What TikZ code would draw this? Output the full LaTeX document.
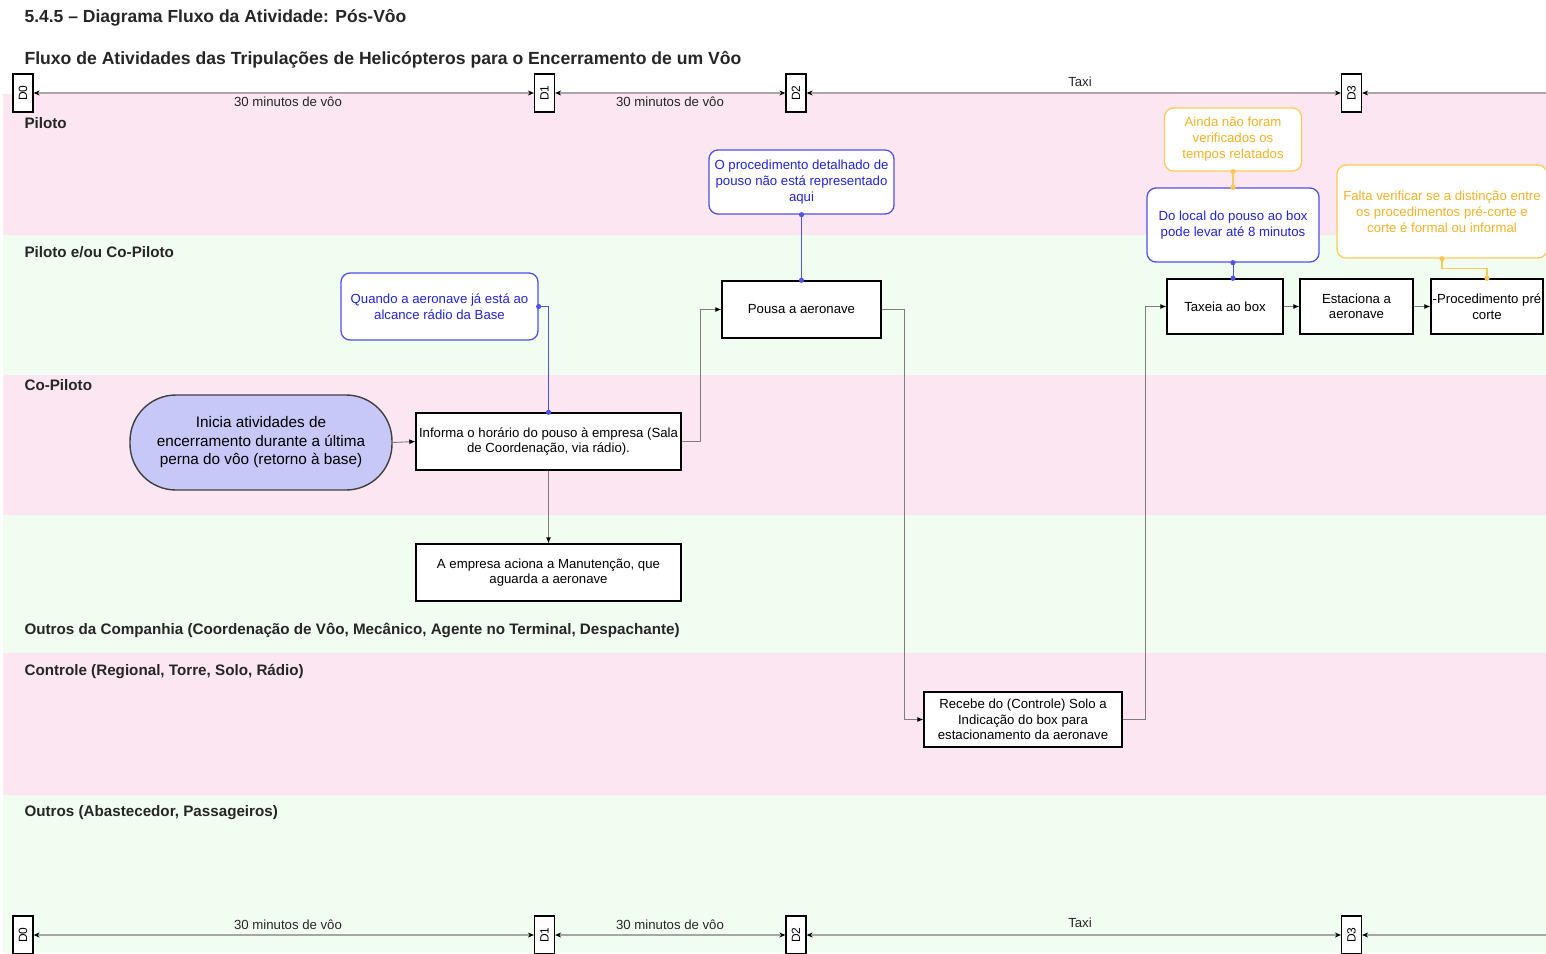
\documentclass[tikz,border=0pt]{standalone}
\usepackage{fontspec}
\setmainfont{Liberation Sans}
\usetikzlibrary{arrows.meta,calc}
\definecolor{lanepink}{RGB}{252,230,241}
\definecolor{lanegreen}{RGB}{241,253,241}
\definecolor{notebl}{RGB}{80,80,235}
\definecolor{notetxt}{RGB}{35,35,220}
\definecolor{noteyl}{RGB}{250,205,90}
\definecolor{noteytxt}{RGB}{240,178,40}
\definecolor{startfill}{RGB}{200,200,248}
\definecolor{conn}{RGB}{125,125,125}
\newcommand\fsz[2]{\fontsize{#1}{#2}\selectfont}
\begin{document}
\begin{tikzpicture}[x=1pt,y=-1pt,
  stepbox/.style={draw=black, line width=1.4pt, fill=white, align=center, font=\fsz{13.2}{15.5}, inner sep=1pt},
  startbox/.style={draw=black!75, line width=1.4pt, fill=startfill, align=center, font=\fsz{15.3}{18.5}, rounded corners=46pt, inner sep=1pt},
  bnote/.style={draw=notebl, line width=1.3pt, fill=white, rounded corners=9pt, text=notetxt, align=center, font=\fsz{13.2}{16}, inner sep=1pt},
  ynote/.style={draw=noteyl, line width=1.3pt, fill=white, rounded corners=9pt, text=noteytxt, align=center, font=\fsz{13.2}{16}, inner sep=1pt},
  tbox/.style={draw=black, line width=1.2pt, fill=white, minimum width=20pt, minimum height=38pt, inner sep=0pt},
  tlabel/.style={font=\fsz{13.2}{15}, text=black!85},
  lanelabel/.style={font=\bfseries\fsz{15.2}{18}, anchor=west, text=black!85},
  flow/.style={draw=conn, line width=0.9pt, -{Latex[length=6pt,width=5pt,black]}},
  bconn/.style={draw=notebl, line width=1pt},
  yconn/.style={draw=noteyl, line width=1.2pt},
  tline/.style={draw=black!35, line width=1.4pt, {Stealth[length=6pt,width=5pt,black]}-{Stealth[length=6pt,width=5pt,black]}},
  tlineone/.style={draw=black!35, line width=1.4pt, {Stealth[length=6pt,width=5pt,black]}-},
]
\useasboundingbox (0,0) rectangle (1546,953);
\fill[white] (0,0) rectangle (1546,953);
% lanes
\fill[lanepink]  (3,94)  rectangle (1546,235);
\fill[lanegreen] (3,235) rectangle (1546,375);
\fill[lanepink]  (3,375) rectangle (1546,515);
\fill[lanegreen] (3,515) rectangle (1546,653);
\fill[lanepink]  (3,653) rectangle (1546,795);
\fill[lanegreen] (3,795) rectangle (1546,953);

% titles
\node[font=\bfseries\fsz{17.5}{20}, anchor=west, text=black!85] (t1) at (21,18) {5.4.5 – Diagrama Fluxo da Atividade: Pós-Vôo};
\node[font=\bfseries\fsz{17.6}{20}, anchor=west, text=black!85] (t2) at (21,60) {Fluxo de Atividades das Tripulações de Helicópteros para o Encerramento de um Vôo};

% lane labels
\node[lanelabel] (l1) at (21,123) {Piloto};
\node[lanelabel] (l2) at (21,252) {Piloto e/ou Co-Piloto};
\node[lanelabel] (l3) at (21,385) {Co-Piloto};
\node[lanelabel] (l4) at (21,630) {Outros da Companhia (Coordenação de Vôo, Mecânico, Agente no Terminal, Despachante)};
\node[lanelabel] (l5) at (21,672) {Controle (Regional, Torre, Solo, Rádio)};
\node[lanelabel] (l6) at (21,813) {Outros (Abastecedor, Passageiros)};

% top timeline
\node[tbox] (d0) at (23,93) {\rotatebox{90}{\fsz{12}{13}D0}};
\node[tbox] (d1) at (544.5,93) {\rotatebox{90}{\fsz{12}{13}D1}};
\node[tbox] (d2) at (796,93) {\rotatebox{90}{\fsz{12}{13}D2}};
\node[tbox] (d3) at (1351.5,93) {\rotatebox{90}{\fsz{12}{13}D3}};
\coordinate (tend) at (1546,93);
\draw[tline] (d0.east) -- (d1.west);
\draw[tline] (d1.east) -- (d2.west);
\draw[tline] (d2.east) -- (d3.west);
\draw[tlineone] (d3.east) -- (tend);
\node[tlabel] (a1) at (288,101.5) {30 minutos de vôo};
\node[tlabel] (a2) at (670,101.5) {30 minutos de vôo};
\node[tlabel] (a3) at (1080,81.5) {Taxi};

% bottom timeline
\node[tbox] (e0) at (23,935) {\rotatebox{90}{\fsz{12}{13}D0}};
\node[tbox] (e1) at (544.5,935) {\rotatebox{90}{\fsz{12}{13}D1}};
\node[tbox] (e2) at (796,935) {\rotatebox{90}{\fsz{12}{13}D2}};
\node[tbox] (e3) at (1351.5,935) {\rotatebox{90}{\fsz{12}{13}D3}};
\coordinate (bend) at (1546,935);
\draw[tline] (e0.east) -- (e1.west);
\draw[tline] (e1.east) -- (e2.west);
\draw[tline] (e2.east) -- (e3.west);
\draw[tlineone] (e3.east) -- (bend);
\node[tlabel] (b1) at (288,924.5) {30 minutos de vôo};
\node[tlabel] (b2) at (670,924.5) {30 minutos de vôo};
\node[tlabel] (b3) at (1080,922.5) {Taxi};

% process nodes
\node[startbox, minimum width=262pt, minimum height=95pt] (start) at (261,442.5)
  {Inicia atividades de\\encerramento durante a última\\perna do vôo (retorno à base)};
\node[stepbox, minimum width=265pt, minimum height=57pt] (inf) at (548.5,441.5)
  {Informa o horário do pouso à empresa (Sala\\de Coordenação, via rádio).};
\node[stepbox, minimum width=265pt, minimum height=57pt] (man) at (548.5,572.5)
  {A empresa aciona a Manutenção, que\\aguarda a aeronave};
\node[stepbox, minimum width=159pt, minimum height=57pt] (pousa) at (801.5,309.5)
  {Pousa a aeronave};
\node[stepbox, minimum width=198pt, minimum height=55pt] (rec) at (1023,719.5)
  {Recebe do (Controle) Solo a\\Indicação do box para\\estacionamento da aeronave};
\node[stepbox, minimum width=116pt, minimum height=55pt] (tax) at (1225,306.5)
  {Taxeia ao box};
\node[stepbox, minimum width=113pt, minimum height=55pt] (est) at (1356.5,306.5)
  {Estaciona a\\aeronave};
\node[stepbox, minimum width=112pt, minimum height=55pt] (proc) at (1487,306.5)
  {-Procedimento pré\\corte};

% notes
\node[bnote, minimum width=197pt, minimum height=67pt] (n1) at (439.5,306.5)
  {Quando a aeronave já está ao\\alcance rádio da Base};
\node[bnote, minimum width=185pt, minimum height=64pt] (n2) at (801.5,182)
  {O procedimento detalhado de\\pouso não está representado\\aqui};
\node[bnote, minimum width=172pt, minimum height=74pt] (n3) at (1233,225)
  {Do local do pouso ao box\\pode levar até 8 minutos};
\node[ynote, minimum width=137pt, minimum height=63pt] (n4) at (1233,139.5)
  {Ainda não foram\\verificados os\\tempos relatados};
\node[ynote, minimum width=210pt, minimum height=93pt] (n5) at (1442,211.5)
  {Falta verificar se a distinção entre\\os procedimentos pré-corte e\\corte é formal ou informal};

% flow connectors
\draw[flow] (start.east) -- (inf.west);
\draw[flow] (inf.south) -- (man.north);
\draw[flow] (inf.east) -- ++(19,0) |- (pousa.west);
\draw[flow] (pousa.east) -- ++(23,0) |- (rec.west);
\draw[flow] (rec.east) -- ++(23,0) |- (tax.west);
\draw[flow] (tax.east) -- (est.west);
\draw[flow] (est.east) -- (proc.west);

% note connectors
\draw[bconn] (n1.east) -| (inf.north);
\fill[notebl] (n1.east) circle (2.6);
\fill[notebl] (inf.north) circle (2.6);
\draw[bconn] (n2.south) -- (pousa.north);
\fill[notebl] (n2.south) circle (2.6);
\fill[notebl] (pousa.north) circle (2.6);
\coordinate (taxtop) at (n3.south |- tax.north);
\draw[bconn] (n3.south) -- (taxtop);
\fill[notebl] (n3.south) circle (2.6);
\fill[notebl] (taxtop) circle (2.6);
\draw[yconn] (n4.south) -- (n3.north);
\fill[noteyl!90!orange] (n4.south) circle (2.6);
\fill[noteyl!90!orange] (n3.north) circle (2.6);
\draw[yconn] (n5.south) -- ++(0,10) -| (proc.north);
\fill[noteyl!90!orange] (n5.south) circle (2.6);
\fill[noteyl!90!orange] (proc.north) circle (2.6);
\end{tikzpicture}
\end{document}
